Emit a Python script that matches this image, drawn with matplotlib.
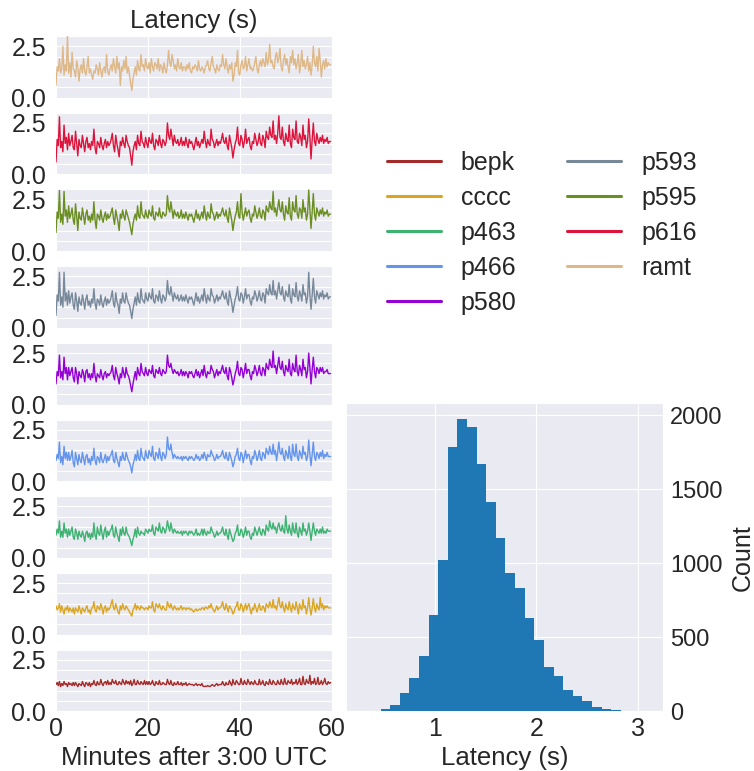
import numpy as np
import matplotlib
matplotlib.use('Agg')
import matplotlib.pyplot as plt
from matplotlib.lines import Line2D

# stations, top panel first
stations = ['ramt', 'p616', 'p595', 'p593', 'p580', 'p466', 'p463', 'cccc', 'bepk']
colors = {'bepk': 'brown', 'cccc': 'goldenrod', 'p463': 'mediumseagreen',
          'p466': 'cornflowerblue', 'p580': 'darkviolet', 'p593': 'lightslategray',
          'p595': 'olivedrab', 'p616': 'crimson', 'ramt': 'burlywood'}
legend_order = ['bepk', 'cccc', 'p463', 'p466', 'p580', 'p593', 'p595', 'p616', 'ramt']

# latency samples every quarter minute (s), one row = 4 minutes
minutes = np.arange(240) * 0.25

ramt = [0.6, 1.5, 1.3, 1.9, 1.2, 1.4, 2.5, 1.1, 1.6, 1.3, 3.0, 1.2, 1.7, 1.0, 2.2, 1.4,
        1.3, 1.0, 1.8, 1.5, 0.8, 1.4, 1.6, 1.2, 1.9, 1.3, 1.1, 1.5, 2.0, 1.2, 1.4, 1.1,
        0.9, 1.3, 1.2, 1.6, 1.4, 1.1, 1.7, 1.3, 1.0, 1.4, 1.5, 1.2, 2.1, 1.3, 1.1, 1.4,
        1.6, 1.3, 1.9, 1.5, 1.2, 2.0, 1.4, 1.7, 0.6, 1.5, 1.3, 1.8, 1.4, 2.0, 1.2, 1.5,
        1.1, 0.7, 0.35, 0.9, 1.2, 1.5, 1.1, 1.8, 1.4, 1.3, 2.1, 1.5, 1.6, 1.3, 1.9, 1.5,
        1.4, 1.7, 1.2, 1.9, 1.5, 1.3, 1.7, 1.6, 1.4, 1.9, 1.3, 1.6, 1.5, 1.2, 1.7, 1.4,
        1.2, 1.6, 2.3, 1.7, 1.5, 2.1, 1.8, 1.4, 1.6, 1.3, 1.9, 1.5, 1.4, 1.7, 1.3, 1.5,
        1.5, 1.3, 1.6, 1.4, 1.7, 1.3, 1.2, 1.5, 1.4, 1.6, 1.5, 1.3, 1.8, 1.4, 1.3, 1.5,
        1.4, 1.2, 1.5, 1.6, 1.8, 1.4, 1.3, 1.7, 2.0, 1.5, 1.4, 1.2, 1.6, 1.4, 1.3, 1.6,
        1.5, 2.1, 1.6, 1.4, 1.9, 1.5, 1.2, 1.6, 1.4, 1.7, 0.8, 1.1, 1.7, 1.5, 2.3, 1.2,
        1.1, 1.6, 1.8, 1.4, 1.5, 2.0, 1.3, 1.6, 1.9, 1.4, 1.5, 1.3, 1.4, 1.7, 2.0, 1.4,
        1.2, 1.6, 1.8, 1.5, 1.9, 1.7, 1.5, 2.2, 1.6, 1.8, 2.6, 1.7, 1.8, 1.5, 1.4, 2.0,
        2.2, 1.7, 1.9, 2.4, 1.5, 1.3, 1.8, 2.1, 1.6, 1.9, 1.5, 1.2, 2.0, 1.7, 2.3, 1.6,
        1.9, 1.4, 1.7, 2.1, 1.2, 1.6, 2.3, 1.5, 1.8, 1.4, 1.6, 2.0, 1.3, 1.7, 1.1, 1.6,
        2.5, 1.7, 1.5, 2.0, 1.3, 2.4, 1.8, 1.0, 1.6, 1.8, 1.4, 1.9, 1.5, 1.7, 1.6, 1.6]
p616 = [0.6, 1.7, 1.4, 2.8, 1.3, 1.6, 1.1, 2.4, 1.5, 1.8, 1.2, 2.0, 1.4, 1.6, 1.9, 1.3,
        1.2, 2.1, 1.5, 0.9, 1.7, 1.4, 1.3, 1.9, 1.5, 1.1, 1.6, 1.8, 1.3, 1.5, 1.2, 1.6,
        1.4, 2.2, 1.3, 1.0, 1.6, 1.5, 1.3, 1.8, 1.4, 1.2, 1.5, 1.7, 1.3, 1.6, 1.4, 1.5,
        1.7, 2.0, 1.4, 1.1, 1.9, 1.5, 1.2, 0.85, 1.6, 1.4, 1.8, 1.5, 1.3, 1.9, 1.6, 1.4,
        1.3, 0.9, 0.45, 1.1, 1.4, 1.6, 1.2, 1.9, 1.5, 1.4, 2.1, 1.6, 1.5, 1.3, 1.8, 1.5,
        1.3, 1.8, 1.6, 1.5, 2.0, 1.4, 1.2, 1.7, 1.6, 1.4, 1.9, 1.5, 1.3, 1.7, 1.6, 1.4,
        1.6, 2.5, 1.9, 1.7, 2.2, 1.8, 1.4, 1.9, 1.6, 1.5, 1.7, 1.4, 1.5, 1.8, 1.4, 1.6,
        1.4, 1.8, 1.5, 1.3, 1.7, 1.5, 1.6, 1.4, 1.2, 1.5, 1.8, 1.4, 1.6, 1.3, 1.5, 1.7,
        1.5, 2.1, 1.6, 1.3, 1.7, 1.5, 1.4, 2.2, 1.7, 1.6, 1.3, 1.5, 1.7, 1.4, 1.6, 1.5,
        1.7, 2.0, 1.6, 1.5, 1.8, 1.4, 1.2, 1.9, 1.6, 1.3, 0.8, 1.2, 1.5, 1.7, 2.3, 1.5,
        1.4, 1.9, 1.7, 1.3, 1.6, 2.2, 1.5, 1.7, 1.8, 1.4, 1.2, 1.6, 1.5, 2.0, 1.7, 1.4,
        1.6, 2.0, 1.5, 1.4, 1.9, 1.7, 1.3, 2.1, 1.8, 1.7, 2.3, 1.9, 1.8, 2.6, 1.7, 1.9,
        1.5, 2.0, 2.85, 1.8, 1.7, 2.3, 1.6, 1.4, 2.0, 1.7, 1.6, 2.4, 1.5, 1.3, 2.2, 1.8,
        1.7, 2.6, 1.6, 1.5, 2.0, 1.8, 1.4, 2.4, 1.7, 1.9, 1.3, 1.6, 2.7, 1.8, 0.75, 1.7,
        2.5, 1.6, 1.4, 2.0, 1.7, 1.5, 1.8, 1.6, 1.9, 1.5, 1.7, 1.6, 1.8, 1.5, 1.6, 1.6]
p595 = [0.9, 1.9, 1.6, 2.95, 1.4, 1.8, 1.3, 2.9, 1.7, 2.0, 1.4, 2.2, 1.6, 1.8, 2.1, 1.5,
        1.3, 2.3, 1.7, 1.0, 1.9, 1.6, 1.5, 2.1, 1.7, 1.3, 1.8, 2.0, 1.5, 1.7, 1.4, 1.8,
        1.5, 2.4, 1.5, 1.1, 1.8, 1.7, 1.5, 2.0, 1.6, 1.4, 1.7, 1.9, 1.5, 1.8, 1.6, 1.7,
        1.9, 2.1, 1.6, 1.3, 2.0, 1.7, 1.4, 1.0, 1.8, 1.6, 2.0, 1.7, 1.5, 2.0, 1.8, 1.6,
        1.4, 1.1, 0.8, 1.3, 1.6, 1.8, 1.5, 2.2, 1.7, 1.6, 2.4, 1.8, 1.7, 1.6, 2.0, 1.7,
        1.6, 2.0, 1.8, 1.7, 2.2, 1.6, 1.5, 1.9, 1.8, 1.7, 2.1, 1.7, 1.6, 1.9, 1.8, 1.7,
        1.8, 2.7, 2.1, 1.9, 2.4, 2.0, 1.6, 2.0, 1.8, 1.7, 1.9, 1.6, 1.7, 2.0, 1.6, 1.8,
        1.6, 1.9, 1.7, 1.5, 1.8, 1.7, 1.8, 1.6, 1.4, 1.7, 2.0, 1.6, 1.8, 1.5, 1.7, 1.9,
        1.6, 2.2, 1.8, 1.5, 1.9, 1.7, 1.6, 2.3, 1.9, 1.8, 1.5, 1.7, 1.9, 1.6, 1.8, 1.7,
        1.9, 2.1, 1.8, 1.7, 2.0, 1.6, 1.4, 2.1, 1.8, 1.5, 1.0, 1.4, 1.7, 1.9, 2.4, 1.7,
        1.6, 2.8, 1.9, 1.5, 1.8, 2.1, 1.7, 1.9, 2.0, 1.6, 1.4, 1.8, 1.7, 2.2, 1.9, 1.6,
        1.8, 2.1, 1.7, 1.6, 2.0, 1.9, 1.5, 2.2, 2.0, 1.9, 2.4, 2.1, 2.0, 2.9, 1.9, 2.1,
        1.7, 2.1, 2.5, 2.0, 1.9, 2.4, 1.8, 1.5, 2.2, 1.9, 1.8, 2.6, 1.7, 1.5, 2.4, 2.0,
        1.9, 2.7, 1.8, 1.6, 2.1, 2.0, 1.6, 2.5, 1.9, 2.1, 1.5, 1.8, 2.97, 2.0, 1.1, 1.9,
        2.8, 1.8, 1.5, 2.1, 1.9, 1.7, 2.0, 1.8, 2.1, 1.7, 1.9, 1.8, 2.0, 1.7, 1.8, 1.8]
p593 = [0.6, 1.6, 1.3, 2.7, 1.1, 1.5, 1.0, 2.7, 1.3, 1.7, 1.1, 1.8, 1.2, 1.5, 1.7, 1.1,
        0.9, 1.7, 1.3, 0.8, 1.5, 1.2, 1.1, 1.6, 1.3, 0.9, 1.4, 1.6, 1.1, 1.3, 1.0, 1.4,
        1.2, 1.9, 1.2, 0.9, 1.4, 1.3, 1.1, 1.6, 1.2, 1.0, 1.3, 1.5, 1.1, 1.4, 1.2, 1.3,
        1.5, 1.8, 1.2, 1.0, 1.7, 1.3, 1.1, 0.7, 1.4, 1.2, 1.7, 1.3, 1.2, 1.7, 1.4, 1.2,
        1.1, 0.8, 0.45, 0.9, 1.2, 1.5, 1.1, 1.7, 1.3, 1.2, 1.9, 1.4, 1.3, 1.2, 1.7, 1.4,
        1.3, 1.7, 1.5, 1.4, 1.9, 1.3, 1.2, 1.6, 1.5, 1.3, 1.8, 1.4, 1.2, 1.6, 1.5, 1.3,
        1.5, 2.3, 1.7, 1.6, 2.0, 1.6, 1.3, 1.7, 1.5, 1.4, 1.6, 1.3, 1.4, 1.6, 1.3, 1.5,
        1.3, 1.6, 1.4, 1.2, 1.5, 1.4, 1.5, 1.3, 1.1, 1.4, 1.7, 1.3, 1.5, 1.2, 1.4, 1.6,
        1.3, 1.9, 1.5, 1.2, 1.6, 1.4, 1.3, 1.9, 1.6, 1.5, 1.2, 1.4, 1.6, 1.3, 1.5, 1.4,
        1.6, 1.8, 1.5, 1.4, 1.7, 1.3, 1.1, 1.8, 1.5, 1.2, 0.75, 1.1, 1.4, 1.6, 2.0, 1.4,
        1.3, 1.7, 1.6, 1.2, 1.5, 1.9, 1.4, 1.6, 1.6, 1.3, 1.1, 1.5, 1.4, 1.8, 1.6, 1.3,
        1.5, 1.8, 1.4, 1.3, 1.7, 1.6, 1.2, 1.9, 1.7, 1.6, 2.1, 1.7, 1.6, 2.3, 1.6, 1.8,
        1.4, 1.8, 2.2, 1.7, 1.6, 2.0, 1.5, 1.3, 1.8, 1.6, 1.5, 2.1, 1.4, 1.2, 1.9, 1.6,
        1.5, 2.2, 1.5, 1.3, 1.8, 1.6, 1.3, 2.1, 1.6, 1.7, 1.2, 1.5, 2.7, 1.6, 0.9, 1.6,
        2.4, 1.5, 1.2, 1.8, 1.6, 1.4, 1.7, 1.5, 1.8, 1.4, 1.6, 1.5, 1.7, 1.4, 1.5, 1.5]
p580 = [1.0, 1.6, 1.4, 2.4, 1.3, 1.6, 1.2, 2.3, 1.5, 1.8, 1.2, 1.8, 1.4, 1.6, 1.8, 1.3,
        1.1, 1.8, 1.5, 1.0, 1.6, 1.4, 1.3, 1.7, 1.5, 1.1, 1.6, 1.7, 1.3, 1.5, 1.2, 1.5,
        1.3, 2.0, 1.4, 1.1, 1.5, 1.4, 1.3, 1.7, 1.4, 1.2, 1.5, 1.6, 1.3, 1.5, 1.4, 1.5,
        1.6, 1.9, 1.4, 1.2, 1.8, 1.5, 1.3, 1.0, 1.5, 1.3, 1.8, 1.5, 1.3, 1.8, 1.5, 1.4,
        1.2, 0.9, 0.62, 1.0, 1.3, 1.6, 1.2, 1.8, 1.5, 1.4, 2.0, 1.6, 1.5, 1.4, 1.8, 1.5,
        1.4, 1.7, 1.6, 1.5, 1.9, 1.4, 1.3, 1.7, 1.6, 1.5, 1.8, 1.5, 1.4, 1.7, 1.6, 1.5,
        1.6, 2.4, 1.9, 1.8, 2.0, 1.7, 1.5, 1.7, 1.6, 1.5, 1.6, 1.4, 1.5, 1.7, 1.4, 1.6,
        1.4, 1.6, 1.5, 1.3, 1.6, 1.5, 1.6, 1.4, 1.3, 1.5, 1.7, 1.4, 1.6, 1.3, 1.5, 1.7,
        1.4, 1.9, 1.5, 1.3, 1.6, 1.5, 1.5, 1.9, 1.7, 1.6, 1.3, 1.5, 1.7, 1.4, 1.6, 1.5,
        1.7, 1.9, 1.6, 1.5, 1.8, 1.4, 1.2, 1.8, 1.6, 1.3, 0.95, 1.2, 1.5, 1.7, 2.1, 1.5,
        1.4, 1.8, 1.7, 1.3, 1.6, 2.0, 1.5, 1.7, 1.7, 1.4, 1.2, 1.6, 1.5, 1.9, 1.7, 1.4,
        1.6, 1.9, 1.5, 1.4, 1.8, 1.7, 1.4, 2.0, 1.8, 1.7, 2.2, 1.9, 1.8, 2.6, 1.8, 1.9,
        1.5, 1.9, 2.3, 1.8, 1.7, 2.1, 1.6, 1.4, 1.9, 1.7, 1.6, 2.2, 1.5, 1.4, 2.0, 1.7,
        1.6, 2.4, 1.6, 1.4, 1.9, 1.7, 1.4, 2.2, 1.7, 1.8, 1.3, 1.6, 2.5, 1.8, 1.0, 1.7,
        2.3, 1.6, 1.3, 1.8, 1.7, 1.5, 1.8, 1.6, 1.8, 1.5, 1.6, 1.6, 1.7, 1.5, 1.5, 1.5]
p466 = [1.0, 1.3, 1.1, 1.9, 0.9, 1.2, 0.8, 1.7, 1.1, 1.4, 1.0, 1.4, 1.0, 1.2, 1.5, 0.9,
        0.7, 1.4, 1.1, 0.8, 1.3, 1.0, 0.9, 1.4, 1.1, 0.8, 1.2, 1.3, 0.9, 1.1, 0.8, 1.2,
        1.0, 1.6, 1.0, 0.8, 1.2, 1.1, 0.9, 1.4, 1.0, 0.9, 1.1, 1.3, 0.9, 1.2, 1.0, 1.2,
        1.3, 1.5, 1.0, 0.9, 1.4, 1.1, 0.9, 0.7, 1.2, 1.0, 1.4, 1.1, 1.0, 1.4, 1.2, 1.0,
        0.9, 0.7, 0.4, 0.8, 1.0, 1.3, 1.0, 1.5, 1.1, 1.0, 1.6, 1.2, 1.1, 1.0, 1.5, 1.2,
        1.1, 1.5, 1.3, 1.2, 1.7, 1.1, 1.0, 1.4, 1.3, 1.1, 1.6, 1.2, 1.0, 1.4, 1.3, 1.1,
        1.3, 2.15, 1.6, 1.5, 1.8, 1.4, 1.1, 1.3, 1.2, 1.1, 1.2, 1.1, 1.1, 1.2, 1.0, 1.2,
        1.1, 1.2, 1.1, 1.0, 1.2, 1.1, 1.2, 1.1, 1.0, 1.1, 1.3, 1.1, 1.2, 1.0, 1.1, 1.3,
        1.1, 1.4, 1.2, 1.0, 1.3, 1.2, 1.2, 1.5, 1.3, 1.2, 1.0, 1.1, 1.3, 1.1, 1.2, 1.2,
        1.3, 1.5, 1.2, 1.1, 1.4, 1.1, 1.0, 1.4, 1.2, 1.0, 0.7, 0.9, 1.2, 1.3, 1.6, 1.1,
        1.0, 1.4, 1.3, 0.9, 1.2, 1.5, 1.1, 1.3, 1.3, 1.0, 0.8, 1.2, 1.1, 1.5, 1.3, 1.0,
        1.2, 1.5, 1.1, 1.0, 1.4, 1.3, 1.1, 1.6, 1.4, 1.3, 1.7, 1.4, 1.3, 1.8, 1.3, 1.5,
        1.0, 1.4, 1.9, 1.4, 1.3, 1.6, 1.2, 1.0, 1.5, 1.3, 1.1, 1.7, 1.2, 1.0, 1.8, 1.3,
        1.2, 1.8, 1.2, 1.0, 1.5, 1.3, 1.1, 1.7, 1.3, 1.4, 1.0, 1.2, 2.0, 1.3, 0.75, 1.3,
        1.9, 1.2, 1.0, 1.4, 1.3, 1.1, 1.4, 1.2, 1.5, 1.1, 1.3, 1.2, 1.4, 1.2, 1.2, 1.2]
p463 = [1.1, 1.4, 1.2, 1.8, 1.0, 1.3, 1.0, 1.7, 1.2, 1.4, 1.0, 1.4, 1.1, 1.3, 1.5, 1.0,
        0.9, 1.4, 1.2, 0.9, 1.3, 1.1, 1.0, 1.3, 1.1, 0.8, 1.2, 1.3, 1.0, 1.2, 0.9, 1.2,
        1.0, 1.7, 1.1, 0.9, 1.5, 1.2, 1.1, 1.6, 1.2, 0.9, 1.3, 1.5, 1.0, 1.3, 1.1, 1.3,
        1.4, 1.6, 1.1, 1.0, 1.5, 1.2, 1.0, 0.8, 1.4, 1.1, 1.5, 1.2, 1.1, 1.5, 1.2, 1.1,
        1.0, 0.8, 0.6, 0.9, 1.1, 1.4, 1.0, 1.5, 1.2, 1.1, 1.3, 1.2, 1.2, 1.1, 1.4, 1.3,
        1.2, 1.4, 1.3, 1.3, 1.6, 1.2, 1.1, 1.5, 1.4, 1.3, 1.7, 1.3, 1.2, 1.5, 1.4, 1.2,
        1.4, 1.8, 1.5, 1.3, 1.7, 1.4, 1.2, 1.4, 1.3, 1.2, 1.3, 1.2, 1.2, 1.3, 1.1, 1.3,
        1.2, 1.3, 1.2, 1.1, 1.3, 1.2, 1.3, 1.2, 1.1, 1.2, 1.4, 1.1, 1.2, 1.1, 1.2, 1.4,
        1.1, 1.4, 1.2, 1.1, 1.3, 1.2, 1.2, 1.5, 1.3, 1.2, 1.0, 1.1, 1.3, 1.1, 1.2, 1.2,
        1.3, 1.5, 1.2, 1.1, 1.4, 1.1, 0.9, 1.4, 1.2, 1.0, 0.8, 0.9, 1.2, 1.3, 1.6, 1.1,
        1.1, 1.4, 1.3, 1.0, 1.2, 1.5, 1.1, 1.3, 1.3, 1.0, 0.9, 1.2, 1.1, 1.5, 1.3, 1.1,
        1.3, 1.5, 1.2, 1.1, 1.4, 1.3, 1.1, 1.6, 1.4, 1.3, 1.8, 1.5, 1.4, 1.7, 1.4, 1.5,
        1.2, 1.5, 1.7, 1.4, 1.3, 1.6, 1.3, 1.2, 2.05, 1.4, 1.2, 1.6, 1.3, 1.1, 1.7, 1.3,
        1.2, 1.7, 1.2, 1.0, 1.5, 1.3, 1.1, 1.7, 1.3, 1.4, 1.1, 1.3, 1.7, 1.3, 0.85, 1.3,
        1.7, 1.3, 1.1, 1.4, 1.3, 1.2, 1.4, 1.2, 1.5, 1.2, 1.3, 1.2, 1.4, 1.3, 1.3, 1.3]
cccc = [1.4, 1.2, 1.3, 1.5, 1.1, 1.4, 1.2, 1.0, 1.3, 1.2, 1.4, 1.1, 1.3, 1.2, 1.1, 1.3,
        1.0, 1.3, 1.2, 1.1, 1.4, 1.2, 1.0, 1.3, 1.2, 1.1, 1.3, 1.4, 1.1, 1.2, 1.0, 1.3,
        1.3, 1.6, 1.2, 1.1, 1.4, 1.3, 1.2, 1.5, 1.3, 1.0, 1.3, 1.4, 1.1, 1.3, 1.2, 1.3,
        1.5, 1.7, 1.3, 1.2, 1.5, 1.3, 1.1, 1.0, 1.4, 1.2, 1.5, 1.3, 1.2, 1.4, 1.3, 1.2,
        1.1, 1.0, 0.9, 1.2, 1.3, 1.5, 1.2, 1.4, 1.3, 1.2, 1.4, 1.3, 1.3, 1.2, 1.3, 1.3,
        1.2, 1.4, 1.3, 1.3, 1.6, 1.2, 1.1, 1.5, 1.4, 1.3, 1.5, 1.3, 1.2, 1.4, 1.3, 1.2,
        1.2, 1.6, 1.4, 1.3, 1.5, 1.3, 1.2, 1.4, 1.3, 1.2, 1.3, 1.2, 1.3, 1.4, 1.2, 1.3,
        1.3, 1.2, 1.3, 1.25, 1.3, 1.2, 1.25, 1.15, 1.1, 1.2, 1.25, 1.15, 1.2, 1.25, 1.2, 1.3,
        1.3, 1.2, 1.35, 1.3, 1.25, 1.4, 1.3, 1.5, 1.3, 1.2, 1.1, 1.25, 1.4, 1.2, 1.3, 1.3,
        1.4, 1.6, 1.3, 1.2, 1.5, 1.3, 1.1, 1.4, 1.3, 1.2, 1.0, 1.1, 1.3, 1.4, 1.6, 1.2,
        1.2, 1.5, 1.4, 1.1, 1.3, 1.5, 1.2, 1.4, 1.5, 1.2, 1.0, 1.3, 1.2, 1.5, 1.3, 1.1,
        1.3, 1.5, 1.2, 1.2, 1.4, 1.3, 1.1, 1.5, 1.4, 1.3, 1.6, 1.4, 1.3, 1.7, 1.3, 1.4,
        1.2, 1.5, 1.8, 1.4, 1.3, 1.6, 1.3, 1.1, 1.5, 1.3, 1.2, 1.6, 1.3, 1.1, 1.5, 1.3,
        1.2, 1.6, 1.3, 1.0, 1.5, 1.3, 1.2, 1.7, 1.3, 1.4, 1.0, 1.3, 1.8, 1.3, 0.95, 1.3,
        1.75, 1.3, 1.1, 1.5, 1.3, 1.2, 1.8, 1.3, 1.5, 1.2, 1.4, 1.3, 1.4, 1.3, 1.3, 1.3]
bepk = [1.3, 1.4, 1.25, 1.45, 1.2, 1.35, 1.25, 1.45, 1.3, 1.35, 1.2, 1.4, 1.3, 1.35, 1.25, 1.4,
        1.25, 1.4, 1.3, 1.2, 1.35, 1.3, 1.25, 1.45, 1.3, 1.2, 1.4, 1.35, 1.25, 1.4, 1.2, 1.35,
        1.3, 1.5, 1.3, 1.25, 1.45, 1.3, 1.3, 1.55, 1.35, 1.25, 1.4, 1.45, 1.3, 1.5, 1.3, 1.4,
        1.3, 1.55, 1.4, 1.35, 1.5, 1.3, 1.3, 1.45, 1.35, 1.3, 1.55, 1.4, 1.3, 1.5, 1.35, 1.45,
        1.3, 1.5, 1.25, 1.35, 1.55, 1.3, 1.3, 1.5, 1.35, 1.3, 1.45, 1.35, 1.3, 1.5, 1.3, 1.45,
        1.3, 1.45, 1.3, 1.35, 1.5, 1.3, 1.25, 1.45, 1.35, 1.3, 1.5, 1.3, 1.3, 1.4, 1.35, 1.3,
        1.3, 1.55, 1.35, 1.3, 1.5, 1.3, 1.25, 1.4, 1.3, 1.3, 1.45, 1.3, 1.3, 1.4, 1.25, 1.35,
        1.3, 1.4, 1.25, 1.3, 1.35, 1.3, 1.3, 1.3, 1.25, 1.3, 1.35, 1.25, 1.3, 1.3, 1.25, 1.35,
        1.22, 1.2, 1.22, 1.2, 1.25, 1.22, 1.2, 1.25, 1.3, 1.25, 1.22, 1.3, 1.35, 1.25, 1.3, 1.3,
        1.3, 1.45, 1.3, 1.25, 1.4, 1.3, 1.3, 1.5, 1.35, 1.25, 1.55, 1.35, 1.3, 1.5, 1.4, 1.3,
        1.3, 1.6, 1.35, 1.3, 1.5, 1.35, 1.3, 1.55, 1.4, 1.3, 1.45, 1.35, 1.3, 1.5, 1.35, 1.3,
        1.3, 1.55, 1.3, 1.35, 1.5, 1.3, 1.25, 1.45, 1.35, 1.3, 1.55, 1.35, 1.3, 1.5, 1.4, 1.3,
        1.3, 1.5, 1.35, 1.3, 1.55, 1.35, 1.3, 1.6, 1.35, 1.3, 1.5, 1.4, 1.35, 1.55, 1.3, 1.4,
        1.35, 1.55, 1.3, 1.4, 1.6, 1.3, 1.3, 1.7, 1.35, 1.3, 1.55, 1.4, 1.35, 1.75, 1.3, 1.45,
        1.35, 1.6, 1.3, 1.35, 1.65, 1.3, 1.35, 1.5, 1.3, 1.4, 1.6, 1.35, 1.3, 1.45, 1.35, 1.4]
series = {'ramt': ramt, 'p616': p616, 'p595': p595, 'p593': p593, 'p580': p580,
          'p466': p466, 'p463': p463, 'cccc': cccc, 'bepk': bepk}

# histogram of all latencies: 29 bins from 0.275 to 3.02 s
hist_lo, hist_hi = 0.275, 3.02
hist_counts = [2, 3, 12, 38, 125, 220, 375, 650, 1020, 1785, 1975, 1920, 1670, 1410, 1170,
               935, 833, 627, 483, 297, 235, 145, 100, 66, 28, 15, 5, 3, 2]

plt.style.use('seaborn-v0_8-darkgrid')
plt.rcParams['font.family'] = ['Liberation Sans', 'DejaVu Sans']
plt.rcParams['font.size'] = 18
plt.rcParams['text.color'] = '.15'
plt.rcParams['axes.labelcolor'] = '.15'
plt.rcParams['xtick.color'] = '.15'
plt.rcParams['ytick.color'] = '.15'

W, H = 754, 771
fig = plt.figure(figsize=(W / 100, H / 100), dpi=100)


def px_axes(left, top, right, bottom):
    return fig.add_axes([left / W, 1 - bottom / H, (right - left) / W, (bottom - top) / H])


ts_axes = []
for i, name in enumerate(stations):
    top = 36 + i * 76.7
    ax = px_axes(56, top, 331.7, top + 61.7)
    ax.plot(minutes, series[name], color=colors[name], lw=1.0)
    ax.set_xlim(0, 60)
    ax.set_ylim(0, 3.0)
    ax.set_xticks([0, 20, 40, 60])
    ax.set_yticks(np.arange(0, 3.01, 0.5))
    ax.set_yticklabels(['0.0', '', '', '', '', '2.5', ''])
    ax.tick_params(axis='y', labelsize=18, pad=7)
    ax.tick_params(axis='x', labelsize=18, pad=4)
    if i < len(stations) - 1:
        ax.set_xticklabels([])
    ts_axes.append(ax)

ts_axes[0].set_title('Latency (s)', fontsize=18.5, pad=6)
ts_axes[-1].set_xlabel('Minutes after 3:00 UTC', fontsize=18.5, labelpad=4)

# histogram
hax = px_axes(346.7, 404.3, 663.3, 711)
edges = np.linspace(hist_lo, hist_hi, len(hist_counts) + 1)
centers = (edges[:-1] + edges[1:]) / 2
hax.hist(centers, bins=edges, weights=hist_counts, color='#1f77b4')
hax.set_xlim(0.13, 3.25)
hax.set_xticks([1, 2, 3])
hax.set_yticks([0, 500, 1000, 1500, 2000])
hax.yaxis.tick_right()
hax.yaxis.set_label_position('right')
hax.set_ylabel('Count', fontsize=18, labelpad=6)
hax.set_xlabel('Latency (s)', fontsize=18.5, labelpad=4)
hax.tick_params(axis='y', labelsize=17, pad=5)
hax.tick_params(axis='x', labelsize=18, pad=4)

# legend
handles = [Line2D([], [], color=colors[n], lw=2.2) for n in legend_order]
fig.legend(handles, legend_order, loc='upper left', bbox_to_anchor=(376.6 / W, 1 - 141 / H),
           ncol=2, frameon=False, fontsize=18, handlelength=2.16, handletextpad=0.8,
           columnspacing=2.04, labelspacing=0.44, borderaxespad=0)

fig.savefig('out.png', dpi=100)
